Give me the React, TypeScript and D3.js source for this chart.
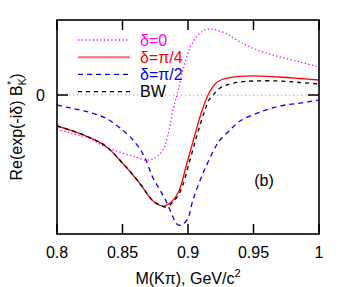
import * as d3 from "d3";
import React, { useRef, useEffect } from "react";

// mass values (GeV/c^2) and curve values (arbitrary units)
const massRed = [0.8, 0.81, 0.824, 0.837, 0.85, 0.863, 0.8733, 0.8809, 0.8863, 0.8924, 0.8992, 0.9046, 0.9084, 0.9122, 0.9153, 0.9183, 0.9214, 0.926, 0.932, 0.9397, 0.955, 0.97, 0.9855, 1.0];
const valRed = [-0.413, -0.467, -0.56, -0.68, -0.907, -1.173, -1.413, -1.48, -1.44, -1.307, -0.907, -0.573, -0.333, -0.133, 0, 0.093, 0.16, 0.207, 0.233, 0.249, 0.253, 0.24, 0.22, 0.2];

const massBW = [0.8, 0.81, 0.824, 0.837, 0.85, 0.863, 0.8733, 0.8786, 0.8832, 0.8878, 0.8939, 0.9015, 0.9069, 0.9122, 0.916, 0.9191, 0.9244, 0.932, 0.9397, 0.9496, 0.97, 0.9855, 1.0];
const valBW = [-0.413, -0.467, -0.56, -0.68, -0.907, -1.173, -1.413, -1.467, -1.493, -1.44, -1.293, -0.867, -0.533, -0.24, -0.067, 0, 0.093, 0.147, 0.173, 0.187, 0.187, 0.167, 0.147];

const massMag = [0.8, 0.81, 0.824, 0.837, 0.85, 0.86, 0.868, 0.8748, 0.8809, 0.8847, 0.8885, 0.8916, 0.8962, 0.9015, 0.9076, 0.913, 0.9176, 0.9282, 0.9397, 0.955, 0.97, 0.9855, 1.0];
const valMag = [-0.453, -0.507, -0.573, -0.693, -0.773, -0.827, -0.867, -0.84, -0.733, -0.533, -0.2, 0, 0.333, 0.627, 0.8, 0.867, 0.88, 0.827, 0.707, 0.587, 0.507, 0.44, 0.373];

const massBlue = [0.8, 0.81, 0.824, 0.837, 0.85, 0.86, 0.8672, 0.8733, 0.8786, 0.884, 0.8885, 0.8924, 0.8962, 0.9, 0.9038, 0.9115, 0.9214, 0.9244, 0.932, 0.9397, 0.955, 0.97, 0.9855, 1.0];
const valBlue = [-0.133, -0.173, -0.227, -0.307, -0.467, -0.64, -0.84, -1.107, -1.267, -1.44, -1.627, -1.733, -1.72, -1.64, -1.4, -1.04, -0.68, -0.6, -0.467, -0.347, -0.227, -0.147, -0.107, -0.067];

const xTicks = [0.8, 0.85, 0.9, 0.95, 1];
const xTickLabels = ["0.8", "0.85", "0.9", "0.95", "1"];
const legendLabels = ["δ=0", "δ=π/4", "δ=π/2", "BW"];

const W = 346;
const H = 287;
const FONT = "'Liberation Sans', Arial, sans-serif";

function Chart() {
  const ref = useRef(null);

  useEffect(() => {
    const svg = d3.select(ref.current);
    svg.selectAll("*").remove();

    const left = 57, right = 319, top = 20, bottom = 234;
    const x = d3.scaleLinear().domain([0.8, 1]).range([left, right]);
    const y = d3.scaleLinear().domain([-1.853, 1]).range([bottom, top]);

    // zero line
    svg.append("line")
      .attr("x1", left).attr("x2", right)
      .attr("y1", y(0)).attr("y2", y(0))
      .attr("stroke", "#999").attr("stroke-width", 1.2)
      .attr("stroke-dasharray", "1.2,2.8");

    const series = [
      { m: massMag, v: valMag, color: "#ff00ff", dash: "1.3,2.4", w: 1.3 },
      { m: massRed, v: valRed, color: "#ff0000", dash: null, w: 1.3 },
      { m: massBlue, v: valBlue, color: "#0000ff", dash: "5,4", w: 1.3 },
      { m: massBW, v: valBW, color: "#000000", dash: "4,4", w: 1.3 },
    ];

    const line = d3.line()
      .x((d) => x(d[0]))
      .y((d) => y(d[1]))
      .curve(d3.curveCatmullRom.alpha(0.5));

    const clip = svg.append("clipPath").attr("id", "clipArea");
    clip.append("rect").attr("x", left).attr("y", top).attr("width", right - left).attr("height", bottom - top);

    const g = svg.append("g").attr("clip-path", "url(#clipArea)");
    series.forEach((s) => {
      const pts = s.m.map((m, i) => [m, s.v[i]]);
      g.append("path")
        .attr("d", line(pts))
        .attr("fill", "none")
        .attr("stroke", s.color)
        .attr("stroke-width", s.w)
        .attr("stroke-dasharray", s.dash);
    });

    // legend
    series.forEach((s, i) => {
      const ly = 40 + i * 17.2;
      svg.append("line")
        .attr("x1", 78).attr("x2", 130)
        .attr("y1", ly).attr("y2", ly)
        .attr("stroke", s.color)
        .attr("stroke-width", i === 1 ? 2 : 1.3)
        .attr("stroke-opacity", i === 1 ? 0.6 : 1)
        .attr("stroke-dasharray", s.dash);
      svg.append("text")
        .attr("x", 140).attr("y", ly + 5.5)
        .attr("font-family", FONT).attr("font-size", 16)
        .attr("fill", s.color)
        .text(legendLabels[i]);
    });

    // frame
    svg.append("rect")
      .attr("x", left).attr("y", top)
      .attr("width", right - left).attr("height", bottom - top)
      .attr("fill", "none").attr("stroke", "#000").attr("stroke-width", 1.6);

    // x ticks (bottom and top), inside
    const xt = svg.append("g");
    xTicks.forEach((t, i) => {
      xt.append("line").attr("x1", x(t)).attr("x2", x(t)).attr("y1", bottom).attr("y2", bottom - 10)
        .attr("stroke", "#000").attr("stroke-width", 1.5);
      xt.append("line").attr("x1", x(t)).attr("x2", x(t)).attr("y1", top).attr("y2", top + 10)
        .attr("stroke", "#000").attr("stroke-width", 1.5);
      xt.append("text")
        .attr("x", x(t)).attr("y", 258)
        .attr("text-anchor", "middle")
        .attr("font-family", FONT).attr("font-size", 16)
        .text(xTickLabels[i]);
    });

    // y tick at 0
    svg.append("line").attr("x1", left).attr("x2", left + 11).attr("y1", y(0)).attr("y2", y(0))
      .attr("stroke", "#000").attr("stroke-width", 1.5);
    svg.append("line").attr("x1", right - 11).attr("x2", right).attr("y1", y(0)).attr("y2", y(0))
      .attr("stroke", "#000").attr("stroke-width", 1.5);
    svg.append("text")
      .attr("x", 45).attr("y", y(0) + 5.7)
      .attr("text-anchor", "end")
      .attr("font-family", FONT).attr("font-size", 16)
      .text("0");

    // x label
    const xl = svg.append("text")
      .attr("x", 188).attr("y", 284)
      .attr("text-anchor", "middle")
      .attr("font-family", FONT).attr("font-size", 16);
    xl.append("tspan").text("M(Kπ), GeV/c");
    xl.append("tspan").attr("font-size", 11).attr("dy", -7).text("2");

    // y label
    const yl = svg.append("text")
      .attr("transform", "translate(22,127) rotate(-90)")
      .attr("text-anchor", "middle")
      .attr("font-family", FONT).attr("font-size", 16);
    yl.append("tspan").text("Re(exp(-iδ) B");
    yl.append("tspan").attr("font-size", 11).attr("dy", 4).text("K");
    yl.append("tspan").attr("font-size", 11).attr("dy", -11).attr("dx", -7).text("*");
    yl.append("tspan").attr("dy", 7).attr("dx", 2).text(")");

    svg.append("text")
      .attr("x", 264).attr("y", 186)
      .attr("text-anchor", "middle")
      .attr("font-family", FONT).attr("font-size", 16)
      .text("(b)");
  }, []);

  return <svg ref={ref} width={W} height={H} style={{ position: "absolute", left: 0, top: 0 }}></svg>;
}

export default function App() {
  return <Chart />;
}
